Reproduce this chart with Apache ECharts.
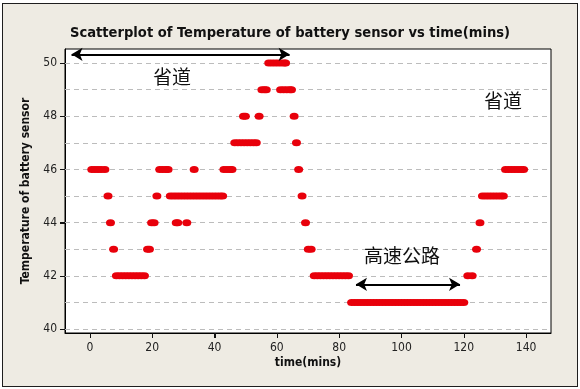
<!DOCTYPE html>
<html><head><meta charset="utf-8">
<script src="https://cdn.jsdelivr.net/npm/echarts@6/dist/echarts.min.js"></script>
<style>
html,body{margin:0;padding:0;background:#fff}
#wrap{position:relative;width:580px;height:389px;overflow:hidden}
#frame{position:absolute;left:2px;top:3px;width:574px;height:382px;background:#EEEBE3;border:1.5px solid #1e1e1e}
#c{position:absolute;left:0;top:0;width:580px;height:389px}
</style>
</head><body><div id="wrap"><div id="frame"></div><div id="c"></div></div>
<script>
// ---- data (time in minutes, grouped by temperature level) ----
const timesAt41 = [84,85,86,87,88,89,90,91,92,93,94,95,96,97,98,99,100,101,102,103,104,105,106,107,108,109,110,111,112,113,114,115,116,117,118,119,120];
const timesAt42 = [8.5,9.5,10.5,11.5,12.5,13.5,14.5,15.5,16.5,17.5,72,73,74,75,76,77,78,79,80,81,82,83,121.3,122.7];
const timesAt43 = [7.6,18.5,19.1,70.1,71.0,124.1];
const timesAt44 = [6.6,19.8,20.6,27.7,28.2,31.1,69.2,125.2];
const timesAt45 = [5.8,21.5,25.8,26.8,27.8,28.8,29.8,30.8,31.8,32.8,33.8,34.8,35.8,36.8,37.8,38.8,39.8,40.8,41.8,42.6,68.1,126,127,128,129,130,131,132,132.7];
const timesAt46 = [0.6,1.6,2.6,3.6,4.8,22.4,23.4,24.4,25.1,33.45,43,44,45,45.6,67.0,133.4,134.4,135.4,136.4,137.4,138.4,139.2];
const timesAt47 = [46.5,47.5,48.5,49.5,50.5,51.5,52.5,53.4,66.3];
const timesAt48 = [49.3,49.9,54.3,65.55];
const timesAt49 = [55.2,56,56.6,61.2,62.2,63.2,64.2,64.7];
const timesAt50 = [57.4,58.4,59.4,60.4,61.4,62.4,62.8];

const xTickValues = [0,20,40,60,80,100,120,140];
const yTickValues = [40,42,44,46,48,50];
const xTickMin = 0, xTickMax = 140, xTickStep = 20;
const yTickMin = 40, yTickMax = 50, yTickStep = 2;
const yGridValues = [40,41,42,43,44,45,46,47,48,49,50];

// annotation arrows: [fromTime, toTime, temperature]
const arrowSpans = [[-5.9,64.1,50.33],[120.4,148.8,49.49],[85.4,118.8,41.68]];
const annotationTexts = ['省道','省道','高速公路'];

const levelTable = [
  [41,timesAt41],[42,timesAt42],[43,timesAt43],[44,timesAt44],[45,timesAt45],
  [46,timesAt46],[47,timesAt47],[48,timesAt48],[49,timesAt49],[50,timesAt50]
];
const points = [];
levelTable.forEach(([temp, times]) => times.forEach(t => points.push([t, temp])));

const latin = '"DejaVu Sans Condensed", "DejaVu Sans", sans-serif';
const cjk = '"Noto Sans CJK SC", "Noto Sans CJK TC", sans-serif';

// frame grid: x -8..148 over 65..551 px, y 39.85..50.53 over 333..49 px
const X0 = -8, X1 = 148, Y0 = 39.85, Y1 = 50.53;
const GL = 65, GR = 551, GT = 49, GB = 333, W = 580, H = 389;
const pxX = v => GL + (v - X0) / (X1 - X0) * (GR - GL);
const pxY = v => GB - (v - Y0) / (Y1 - Y0) * (GB - GT);

const tickLabel = {fontSize: 12, color: '#222', fontFamily: latin};
const tickLine = {show: true, inside: false, length: 5, lineStyle: {color: '#111', width: 1}};

const textItems = [
  {id: 't0', type: 'text', x: 172, y: 77, z: 10, style: {text: annotationTexts[0], fontFamily: cjk, fontSize: 19, fill: '#111', align: 'center', verticalAlign: 'middle'}},
  {id: 't1', type: 'text', x: 503, y: 101, z: 10, style: {text: annotationTexts[1], fontFamily: cjk, fontSize: 19, fill: '#111', align: 'center', verticalAlign: 'middle'}},
  {id: 't2', type: 'text', x: 402, y: 256, z: 10, style: {text: annotationTexts[2], fontFamily: cjk, fontSize: 19, fill: '#111', align: 'center', verticalAlign: 'middle'}}
];

const chart = echarts.init(document.getElementById('c'));
chart.setOption({
  animation: false,
  backgroundColor: 'transparent',
  title: {
    text: 'Scatterplot of Temperature of battery sensor vs time(mins)',
    left: 'center', top: 21,
    textStyle: {fontFamily: latin, fontSize: 14.6, fontWeight: 'bold', color: '#111'}
  },
  grid: [
    {left: GL, right: W - GR, top: GT, bottom: H - GB, show: true,
     backgroundColor: '#ffffff', borderColor: '#000', borderWidth: 1},
    {left: pxX(xTickMin), right: W - pxX(xTickMax), top: pxY(yTickMax), bottom: H - pxY(yTickMin), show: false}
  ],
  xAxis: [
    {
      gridIndex: 0, type: 'value', min: X0, max: X1,
      splitLine: {show: false}, axisLine: {show: true, onZero: false, lineStyle: {color: '#000'}},
      axisTick: {show: false}, axisLabel: {show: false},
      name: 'time(mins)', nameLocation: 'middle', nameGap: 24,
      nameTextStyle: {fontFamily: latin, fontWeight: 'bold', fontSize: 12, color: '#111'}
    },
    {
      gridIndex: 1, type: 'value', min: xTickMin, max: xTickMax, interval: xTickStep,
      position: 'bottom', offset: GB - pxY(yTickMin),
      splitLine: {show: false}, axisLine: {show: true, onZero: false, lineStyle: {color: '#000'}},
      axisTick: tickLine, axisLabel: Object.assign({margin: 9}, tickLabel)
    }
  ],
  yAxis: [
    {
      gridIndex: 0, type: 'value', min: Y0, max: Y1,
      splitLine: {show: false}, axisLine: {show: true, onZero: false, lineStyle: {color: '#000'}},
      axisTick: {show: false}, axisLabel: {show: false},
      name: 'Temperature of battery sensor', nameLocation: 'middle', nameGap: 33,
      nameTextStyle: {fontFamily: latin, fontWeight: 'bold', fontSize: 12, color: '#111'}
    },
    {
      gridIndex: 1, type: 'value', min: yTickMin, max: yTickMax, interval: yTickStep,
      position: 'left', offset: pxX(xTickMin) - GL,
      splitLine: {show: false}, axisLine: {show: true, onZero: false, lineStyle: {color: '#000'}},
      axisTick: tickLine, axisLabel: Object.assign({margin: 8}, tickLabel)
    }
  ],
  series: [
    {
      type: 'scatter', data: [], z: 1, silent: true, xAxisIndex: 0, yAxisIndex: 0,
      markLine: {
        z: 1, silent: true, symbol: ['none','none'], label: {show: false},
        lineStyle: {type: [5,4], color: '#bcbcbc', width: 1},
        emphasis: {disabled: true},
        data: yGridValues.map(v => ({yAxis: v}))
      }
    },
    {
      type: 'scatter', data: points, z: 3, xAxisIndex: 0, yAxisIndex: 0,
      symbol: 'circle', symbolSize: [9,7],
      itemStyle: {color: '#E8000B', opacity: 1, borderWidth: 0},
      emphasis: {disabled: true}
    },
    {
      type: 'scatter', data: [], z: 6, silent: true, xAxisIndex: 0, yAxisIndex: 0,
      markLine: {
        z: 6, silent: true, label: {show: false},
        symbol: ['arrow','arrow'], symbolSize: [10,11],
        lineStyle: {type: 'solid', color: '#000', width: 2},
        emphasis: {disabled: true},
        data: arrowSpans.map(([a,b,y]) => [{coord: [a,y]}, {coord: [b,y]}])
      }
    }
  ],
  graphic: textItems
});

// explicit outward tick marks placed through the chart's own axis scale
const tickMarks = [];
xTickValues.forEach((v, i) => {
  const p = chart.convertToPixel({gridIndex: 0}, [v, Y0]);
  const x = Math.round(p[0]) + 0.5;
  tickMarks.push({id: 'xt' + i, type: 'line', z: 20, silent: true,
    shape: {x1: x, y1: p[1], x2: x, y2: p[1] + 5}, style: {stroke: '#111', lineWidth: 1}});
});
yTickValues.forEach((v, i) => {
  const p = chart.convertToPixel({gridIndex: 0}, [X0, v]);
  const y = Math.round(p[1]) + 0.5;
  tickMarks.push({id: 'yt' + i, type: 'line', z: 20, silent: true,
    shape: {x1: p[0] - 5, y1: y, x2: p[0], y2: y}, style: {stroke: '#111', lineWidth: 1}});
});
chart.setOption({graphic: textItems.concat(tickMarks)});
</script></body></html>
